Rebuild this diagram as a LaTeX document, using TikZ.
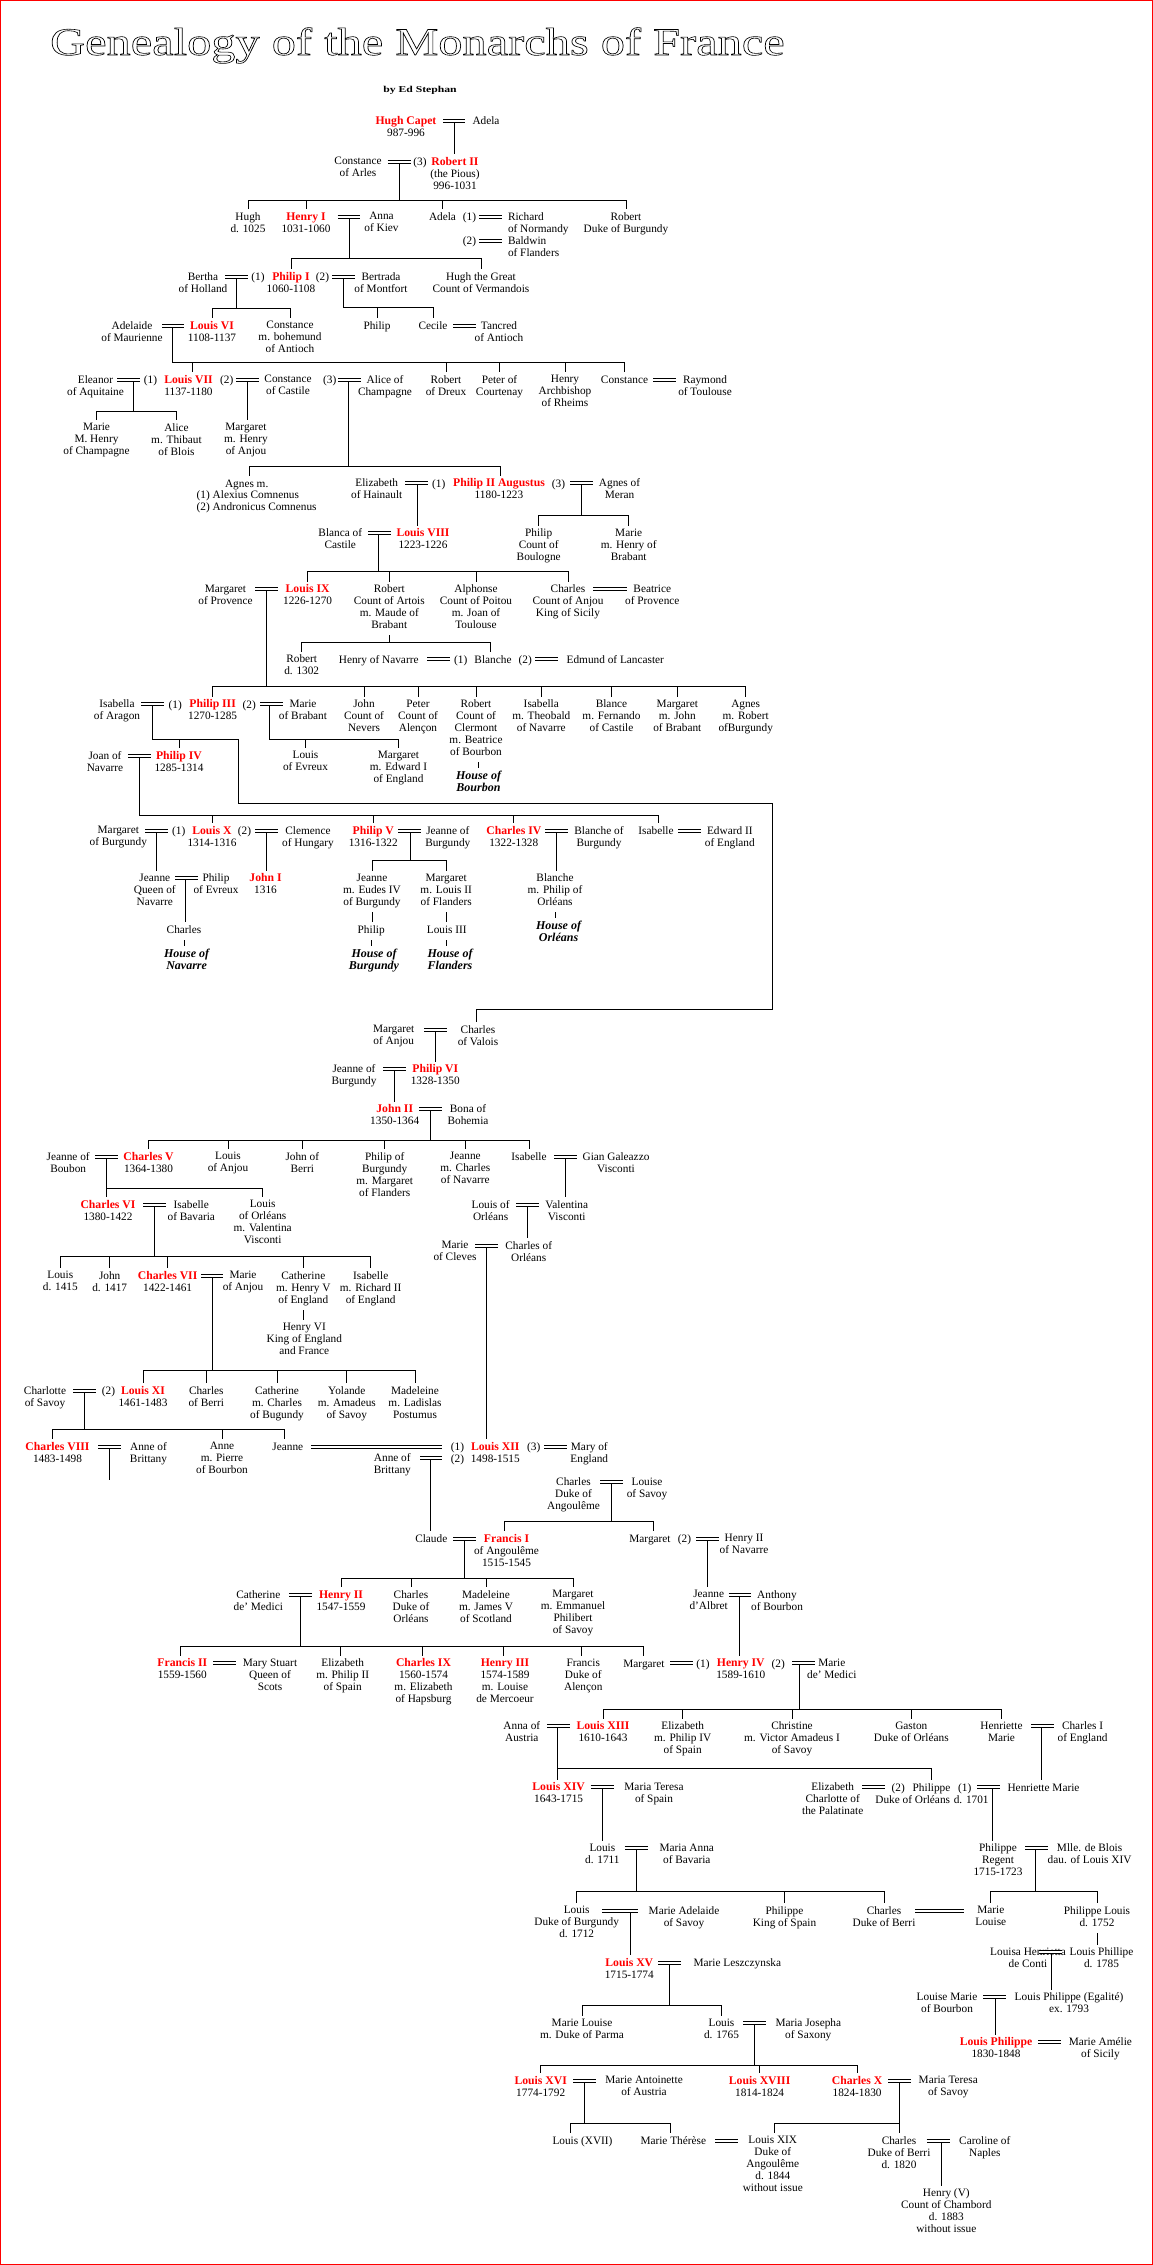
\documentclass[tikz,border=0pt]{standalone}
\usepackage{fontspec}
\setmainfont{Liberation Serif}
\usepackage{graphicx}
\newcommand\myNF{\fontsize{11.3}{12}\selectfont}
\newcommand\myK[1]{{\fontsize{11.7}{12}\selectfont\bfseries\color{red}#1}}
\newcommand\myH[1]{{\fontsize{12}{12}\selectfont\bfseries\itshape #1}}
\tikzset{
  tx/.style={anchor=north, inner sep=0pt, outer xsep=0pt, outer ysep=3.5pt, yshift=8.1pt, align=center, font=\myNF, execute at begin node=\strut},
  txl/.style={tx, anchor=north west, align=left},
  ln/.style={line width=1pt, line cap=rect},
  mar/.style={double, double distance=1.7pt, line width=1pt},
}
% marriage: name, x1, x2, y, descent x
\newcommand\myM[5]{\coordinate (#1) at (#5,#4+1.5); \draw[mar] (#2,#4) -- (#3,#4);}
% family bar: name, y, xleft, xright
\newcommand\myB[4]{\coordinate (#1L) at (#3,#2); \coordinate (#1R) at (#4,#2); \draw[ln] (#1L) -- (#1R);}
% tick from bar to child
\newcommand\myT[2]{\draw[ln] (#2.north) -- (#2.north |- #1L);}
\newcommand\myTX[3]{\path ([xshift=#3pt]#2.north) coordinate (tmp); \draw[ln] (tmp) -- (tmp |- #1L);}
% direct descent from marriage to child
\newcommand\myD[2]{\draw[ln] (#1) -- (#1 |- #2.north);}
% descent from marriage to bar
\newcommand\myU[2]{\draw[ln] (#1) -- (#1 |- #2L);}
\begin{document}
\begin{tikzpicture}[x=1pt,y=-1pt]
\useasboundingbox (0,0) rectangle (1153,2265);
\fill[white] (0,0) rectangle (1153,2265);

% ---------------- nodes ----------------
\node[anchor=base, inner sep=0pt] (by) at (420,92.5) {\scalebox{1.3}[1]{\fontsize{9}{9}\selectfont\bfseries by Ed Stephan}};

% R1
\node[tx] (hugh) at (406,121) {\myK{Hugh Capet}\\987-996};
\node[tx] (adela0) at (486,121) {Adela};
\node[tx] (constA) at (358,162) {Constance\\of Arles};
\node[tx] (n3a) at (420,162) {(3)};
\node[tx] (rob) at (455,162) {\myK{Robert II}\\(the Pious)\\996-1031};
\node[tx] (hughB) at (248,217) {Hugh\\d. 1025};
\node[tx] (henry1) at (306,217) {\myK{Henry I}\\1031-1060};
\node[tx] (anna) at (381.5,217) {Anna\\of Kiev};
\node[tx] (adela) at (442.5,217) {Adela};
\node[tx] (n1a) at (469.5,217) {(1)};
\node[txl] (richard) at (508,217) {Richard\\of Normandy};
\node[tx] (n2a) at (469.5,241) {(2)};
\node[txl] (baldwin) at (508,241) {Baldwin\\of Flanders};
\node[tx] (robB) at (626,217) {Robert\\Duke of Burgundy};
\node[tx] (bertha) at (203,277) {Bertha\\of Holland};
\node[tx] (n1b) at (258,277) {(1)};
\node[tx] (philip1) at (291,277) {\myK{Philip I}\\1060-1108};
\node[tx] (n2b) at (322.5,277) {(2)};
\node[tx] (bertrada) at (381,277) {Bertrada\\of Montfort};
\node[tx] (hughG) at (481,277) {Hugh the Great\\Count of Vermandois};
\node[tx] (adelaide) at (132,326) {Adelaide\\of Maurienne};
\node[tx] (louis6) at (212,326) {\myK{Louis VI}\\1108-1137};
\node[tx] (constB) at (290,326) {Constance\\m. bohemund\\of Antioch};
\node[tx] (philipC) at (377,326) {Philip};
\node[tx] (cecile) at (433,326) {Cecile};
\node[tx] (tancred) at (499,326) {Tancred\\of Antioch};

% R2
\node[tx] (eleanor) at (95.5,380) {Eleanor\\of Aquitaine};
\node[tx] (n1c) at (150.5,380) {(1)};
\node[tx] (louis7) at (188.5,380) {\myK{Louis VII}\\1137-1180};
\node[tx] (n2c) at (226.7,380) {(2)};
\node[tx] (constC) at (288,380) {Constance\\of Castile};
\node[tx] (n3c) at (329.7,380) {(3)};
\node[tx] (alice) at (385,380) {Alice of\\Champagne};
\node[tx] (robD) at (446,380) {Robert\\of Dreux};
\node[tx] (peter) at (499.5,380) {Peter of\\Courtenay};
\node[tx] (henryR) at (565,380) {Henry\\Archbishop\\of Rheims};
\node[tx] (constD) at (624.5,380) {Constance};
\node[tx] (raymond) at (705,380) {Raymond\\of Toulouse};
\node[tx] (marieC) at (96.5,428) {Marie\\M. Henry\\of Champagne};
\node[tx] (aliceB) at (176.5,428) {Alice\\m. Thibaut\\of Blois};
\node[tx] (margA) at (246,428) {Margaret\\m. Henry\\of Anjou};
\node[tx] (agnes) at (246.7,483.3) {Agnes m.};
\node[txl] (agnesB) at (196.7,495.3) {(1) Alexius Comnenus\\(2) Andronicus Comnenus};
\node[tx] (elizH) at (376.7,483.3) {Elizabeth\\of Hainault};
\node[tx] (n1d) at (438.7,483.3) {(1)};
\node[tx] (philip2) at (499,483.3) {\myK{Philip II Augustus}\\1180-1223};
\node[tx] (n3d) at (558.5,483.3) {(3)};
\node[tx] (agnesM) at (619.5,483.3) {Agnes of\\Meran};
\node[tx] (blanca) at (340.3,533.3) {Blanca of\\Castile};
\node[tx] (louis8) at (423,533.3) {\myK{Louis VIII}\\1223-1226};
\node[tx] (philipB) at (538.7,533.3) {Philip\\Count of\\Boulogne};
\node[tx] (marieB) at (628.7,533.3) {Marie\\m. Henry of\\Brabant};
\node[tx] (margP) at (225.5,589.3) {Margaret\\of Provence};
\node[tx] (louis9) at (307.6,589.3) {\myK{Louis IX}\\1226-1270};
\node[tx] (robA) at (389.3,589.3) {Robert\\Count of Artois\\m. Maude of\\Brabant};
\node[tx] (alphonse) at (476,589.3) {Alphonse\\Count of Poitou\\m. Joan of\\Toulouse};
\node[tx] (charlesA) at (568,589.3) {Charles\\Count of Anjou\\King of Sicily};
\node[tx] (beatrice) at (652.3,589.3) {Beatrice\\of Provence};
\node[tx] (rob1302) at (301.7,659.3) {Robert\\d. 1302};
\node[tx] (henryN) at (378.7,659.3) {Henry of Navarre};
\node[tx] (n1e) at (460.7,659.3) {(1)};
\node[tx] (blancheA) at (493,659.3) {Blanche};
\node[tx] (n2e) at (525.3,659.3) {(2)};
\node[tx] (edmund) at (615.3,659.3) {Edmund of Lancaster};
\node[tx] (isabella) at (117,704.3) {Isabella\\of Aragon};
\node[tx] (n1f) at (175.3,704.3) {(1)};
\node[tx] (philip3) at (212.6,704.3) {\myK{Philip III}\\1270-1285};
\node[tx] (n2f) at (249.3,704.3) {(2)};
\node[tx] (marieBr) at (303,704.3) {Marie\\of Brabant};
\node[tx] (johnN) at (364,704.3) {John\\Count of\\Nevers};
\node[tx] (peterA) at (418,704.3) {Peter\\Count of\\Alençon};
\node[tx] (robC) at (476,704.3) {Robert\\Count of\\Clermont\\m. Beatrice\\of Bourbon};
\node[tx] (isabT) at (541.3,704.3) {Isabella\\m. Theobald\\of Navarre};
\node[tx] (blance) at (611.5,704.3) {Blance\\m. Fernando\\of Castile};
\node[tx] (margJ) at (677.3,704.3) {Margaret\\m. John\\of Brabant};
\node[tx] (agnesR) at (745.7,704.3) {Agnes\\m. Robert\\ofBurgundy};
\node[tx] (hBourbon) at (478.5,776) {\myH{House of}\\\myH{Bourbon}};
\node[tx] (joan) at (105,756) {Joan of\\Navarre};
\node[tx] (philip4) at (179,756) {\myK{Philip IV}\\1285-1314};
\node[tx] (louisE) at (305.5,756) {Louis\\of Evreux};
\node[tx] (margE) at (398.5,756) {Margaret\\m. Edward I\\of England};

% R3
\node[tx] (margB) at (118.3,831) {Margaret\\of Burgundy};
\node[tx] (n1g) at (178.7,831) {(1)};
\node[tx] (louis10) at (212,831) {\myK{Louis X}\\1314-1316};
\node[tx] (n2g) at (244.5,831) {(2)};
\node[tx] (clemence) at (308,831) {Clemence\\of Hungary};
\node[tx] (philip5) at (373.3,831) {\myK{Philip V}\\1316-1322};
\node[tx] (jeanneB) at (447.8,831) {Jeanne of\\Burgundy};
\node[tx] (charles4) at (513.8,831) {\myK{Charles IV}\\1322-1328};
\node[tx] (blancheB) at (599,831) {Blanche of\\Burgundy};
\node[tx] (isab1) at (656,831) {Isabelle};
\node[tx] (edward) at (729.8,831) {Edward II\\of England};
\node[tx] (jeanneN) at (154.8,878.3) {Jeanne\\Queen of\\Navarre};
\node[tx] (philipE) at (216,878.3) {Philip\\of Evreux};
\node[tx] (john1) at (265.5,878.3) {\myK{John I}\\1316};
\node[tx] (jeanneE) at (372,878.3) {Jeanne\\m. Eudes IV\\of Burgundy};
\node[tx] (margF) at (446.2,878.3) {Margaret\\m. Louis II\\of Flanders};
\node[tx] (blancheP) at (555,878.3) {Blanche\\m. Philip of\\Orléans};
\node[tx] (charlesN) at (184,929.3) {Charles};
\node[tx] (philipBg) at (371.2,929.3) {Philip};
\node[tx] (louis3) at (446.8,929.3) {Louis III};
\node[tx] (hOrleans) at (558.5,926) {\myH{House of}\\\myH{Orléans}};
\node[tx] (hNavarre) at (186.6,953.3) {\myH{House of}\\\myH{Navarre}};
\node[tx] (hBurgundy) at (374,953.3) {\myH{House of}\\\myH{Burgundy}};
\node[tx] (hFlanders) at (450,953.3) {\myH{House of}\\\myH{Flanders}};
\node[tx] (margAn) at (393.7,1030) {Margaret\\of Anjou};
\node[tx] (charlesV) at (478,1030) {Charles\\of Valois};
\node[tx] (jeanneB2) at (354,1069.3) {Jeanne of\\Burgundy};
\node[tx] (philip6) at (435.3,1069.3) {\myK{Philip VI}\\1328-1350};
\node[tx] (john2) at (394.7,1109.3) {\myK{John II}\\1350-1364};
\node[tx] (bona) at (468,1109.3) {Bona of\\Bohemia};

% R4
\node[tx] (jeanneBo) at (68.2,1157) {Jeanne of\\Boubon};
\node[tx] (charles5) at (148.5,1157) {\myK{Charles V}\\1364-1380};
\node[tx] (louisA) at (228,1157) {Louis\\of Anjou};
\node[tx] (johnB) at (302.3,1157) {John of\\Berri};
\node[tx] (philipBu) at (384.7,1157) {Philip of\\Burgundy\\m. Margaret\\of Flanders};
\node[tx] (jeanneC) at (465.3,1157) {Jeanne\\m. Charles\\of Navarre};
\node[tx] (isab2) at (529,1157) {Isabelle};
\node[tx] (gian) at (616,1157) {Gian Galeazzo\\Visconti};
\node[tx] (charles6) at (108,1205) {\myK{Charles VI}\\1380-1422};
\node[tx] (isabB) at (191.3,1205) {Isabelle\\of Bavaria};
\node[tx] (louisOr) at (262.7,1205) {Louis\\of Orléans\\m. Valentina\\Visconti};
\node[tx] (louisO) at (490.6,1205) {Louis of\\Orléans};
\node[tx] (valentina) at (566.8,1205) {Valentina\\Visconti};
\node[tx] (marieCl) at (455,1246) {Marie\\of Cleves};
\node[tx] (charlesO) at (528.7,1246) {Charles of\\Orléans};
\node[tx] (louis1415) at (60.3,1276) {Louis\\d. 1415};
\node[tx] (john1417) at (109.7,1276) {John\\d. 1417};
\node[tx] (charles7) at (167.6,1276) {\myK{Charles VII}\\1422-1461};
\node[tx] (marieAn) at (243,1276) {Marie\\of Anjou};
\node[tx] (cathE) at (303.3,1276) {Catherine\\m. Henry V\\of England};
\node[tx] (isabR) at (370.7,1276) {Isabelle\\m. Richard II\\of England};
\node[tx] (henry6) at (304.3,1328) {Henry VI\\King of England\\and France};
\node[tx] (charlotte) at (45,1391) {Charlotte\\of Savoy};
\node[tx] (n2h) at (108.5,1391) {(2)};
\node[tx] (louis11) at (143,1391) {\myK{Louis XI}\\1461-1483};
\node[tx] (charlesB) at (206.3,1391) {Charles\\of Berri};
\node[tx] (cathC) at (277,1391) {Catherine\\m. Charles\\of Bugundy};
\node[tx] (yolande) at (346.8,1391) {Yolande\\m. Amadeus\\of Savoy};
\node[tx] (madeleine) at (415,1391) {Madeleine\\m. Ladislas\\Postumus};
\node[tx] (charles8) at (57.5,1447) {\myK{Charles VIII}\\1483-1498};
\node[tx] (anneBr) at (148.5,1447) {Anne of\\Brittany};
\node[tx] (anneP) at (222,1447) {Anne\\m. Pierre\\of Bourbon};
\node[tx] (jeanneL) at (287.8,1447) {Jeanne};
\node[tx] (n1i) at (457.5,1447) {(1)};
\node[tx] (louis12) at (495.3,1447) {\myK{Louis XII}\\1498-1515};
\node[tx] (n3i) at (533.7,1447) {(3)};
\node[tx] (mary) at (589.3,1447) {Mary of\\England};
\node[tx] (anneBr2) at (392.3,1458.3) {Anne of\\Brittany};
\node[tx] (n2i) at (457.5,1458.3) {(2)};
\node[tx] (charlesAng) at (573.5,1482.3) {Charles\\Duke of\\Angoulême};
\node[tx] (louiseS) at (647,1482.3) {Louise\\of Savoy};

% R5
\node[tx] (claude) at (431.3,1539) {Claude};
\node[tx] (francis1) at (506.5,1539) {\myK{Francis I}\\of Angoulême\\1515-1545};
\node[tx] (margN) at (650,1539) {Margaret};
\node[tx] (n2j) at (684.5,1539) {(2)};
\node[tx] (henry2N) at (744,1539) {Henry II\\of Navarre};
\node[tx] (jeanneAl) at (708.7,1595) {Jeanne\\d'Albret};
\node[tx] (anthony) at (777,1595) {Anthony\\of Bourbon};
\node[tx] (cathM) at (258.3,1595) {Catherine\\de' Medici};
\node[tx] (henry2) at (341,1595) {\myK{Henry II}\\1547-1559};
\node[tx] (charlesO2) at (411,1595) {Charles\\Duke of\\Orléans};
\node[tx] (madeleine2) at (486,1595) {Madeleine\\m. James V\\of Scotland};
\node[tx] (margS) at (573,1595) {Margaret\\m. Emmanuel\\Philibert\\of Savoy};
\node[tx] (francis2) at (182.3,1663.3) {\myK{Francis II}\\1559-1560};
\node[tx] (maryS) at (270,1663.3) {Mary Stuart\\Queen of\\Scots};
\node[tx] (elizS) at (342.7,1663.3) {Elizabeth\\m. Philip II\\of Spain};
\node[tx] (charles9) at (423.5,1663.3) {\myK{Charles IX}\\1560-1574\\m. Elizabeth\\of Hapsburg};
\node[tx] (henry3) at (505,1663.3) {\myK{Henry III}\\1574-1589\\m. Louise\\de Mercoeur};
\node[tx] (francisA) at (583.3,1663.3) {Francis\\Duke of\\Alençon};
\node[tx] (margV) at (644,1663.3) {Margaret};
\node[tx] (n1k) at (703,1663.3) {(1)};
\node[tx] (henry4) at (740.8,1663.3) {\myK{Henry IV}\\1589-1610};
\node[tx] (n2k) at (778.3,1663.3) {(2)};
\node[tx] (marieM) at (831.8,1663.3) {Marie\\de' Medici};
\node[tx] (anneA) at (521.8,1726.3) {Anna of\\Austria};
\node[tx] (louis13) at (603,1726.3) {\myK{Louis XIII}\\1610-1643};
\node[tx] (elizP) at (682.7,1726.3) {Elizabeth\\m. Philip IV\\of Spain};
\node[tx] (christine) at (792,1726.3) {Christine\\m. Victor Amadeus I\\of Savoy};
\node[tx] (gaston) at (911.3,1726.3) {Gaston\\Duke of Orléans};
\node[tx] (henriette) at (1001.5,1726.3) {Henriette\\Marie};
\node[tx] (charles1) at (1082.6,1726.3) {Charles I\\of England};
\node[tx] (louis14) at (558.6,1787.3) {\myK{Louis XIV}\\1643-1715};
\node[tx] (mariaT) at (654,1787.3) {Maria Teresa\\of Spain};
\node[tx] (elizC) at (832.7,1787.3) {Elizabeth\\Charlotte of\\the Palatinate};
\node[tx] (n2l) at (898.3,1787.3) {(2)};
\node[tx] (philippeO) at (931.5,1787.3) {Philippe};
\node[tx] (dukeO) at (912.7,1799.3) {Duke of Orléans};
\node[tx] (d1701) at (971.2,1799.3) {d. 1701};
\node[tx] (n1l) at (964.7,1787.3) {(1)};
\node[tx] (henriette2) at (1043.5,1787.3) {Henriette Marie};
\node[tx] (louis1711) at (602.4,1848.3) {Louis\\d. 1711};
\node[tx] (mariaA) at (686.8,1848.3) {Maria Anna\\of Bavaria};
\node[tx] (philippeR) at (998,1848.3) {Philippe\\Regent\\1715-1723};
\node[tx] (mlle) at (1089.6,1848.3) {Mlle. de Blois\\dau. of Louis XIV};

% R6
\node[tx] (louisDB) at (576.7,1911) {Louis\\Duke of Burgundy\\d. 1712};
\node[tx] (marieAd) at (684,1911) {Marie Adelaide\\of Savoy};
\node[tx] (philippeK) at (784.5,1911) {Philippe\\King of Spain};
\node[tx] (charlesDB) at (884,1911) {Charles\\Duke of Berri};
\node[tx] (marieL) at (990.8,1911) {Marie\\Louise};
\node[tx] (philippeL) at (1097,1911) {Philippe Louis\\d. 1752};
\node[tx] (louisaH) at (1028,1952.3) {Louisa Henrietta\\de Conti};
\node[tx] (louisPh) at (1101.5,1952.3) {Louis Phillipe\\d. 1785};
\node[tx] (louiseM) at (947,1997.3) {Louise Marie\\of Bourbon};
\node[tx] (egalite) at (1069,1997.3) {Louis Philippe (Egalité)\\ex. 1793};
\node[tx] (louisP) at (996,2042.3) {\myK{Louis Philippe}\\1830-1848};
\node[tx] (marieAm) at (1100.4,2042.3) {Marie Amélie\\of Sicily};
\node[tx] (louis15) at (629.3,1963) {\myK{Louis XV}\\1715-1774};
\node[tx] (marieLe) at (737.3,1963) {Marie Leszczynska};
\node[tx] (marieLP) at (582,2023.3) {Marie Louise\\m. Duke of Parma};
\node[tx] (louis1765) at (721.5,2023.3) {Louis\\d. 1765};
\node[tx] (mariaJ) at (808.3,2023.3) {Maria Josepha\\of Saxony};
\node[tx] (louis16) at (540.7,2081) {\myK{Louis XVI}\\1774-1792};
\node[tx] (marieAnt) at (644,2081) {Marie Antoinette\\of Austria};
\node[tx] (louis18) at (759.6,2081) {\myK{Louis XVIII}\\1814-1824};
\node[tx] (charles10) at (857.1,2081) {\myK{Charles X}\\1824-1830};
\node[tx] (mariaTS) at (948.3,2081) {Maria Teresa\\of Savoy};
\node[tx] (louis17) at (582.5,2141) {Louis (XVII)};
\node[tx] (marieT) at (673.3,2141) {Marie Thérèse};
\node[tx] (louis19) at (772.8,2141) {Louis XIX\\Duke of\\Angoulême\\d. 1844\\without issue};
\node[tx] (charlesB2) at (899,2141) {Charles\\Duke of Berri\\d. 1820};
\node[tx] (caroline) at (984.8,2141) {Caroline of\\Naples};
\node[tx] (henry5) at (946.3,2193.3) {Henry (V)\\Count of Chambord\\d. 1883\\without issue};

% ---------------- connectors ----------------
% R1
\myM{mHugh}{443}{465}{121}{454}
\myM{mRob}{387.5}{411}{162}{399}
\myM{mHen}{337.5}{360}{217}{349}
\myM{mAdA}{479}{501.5}{217}{490}
\myM{mAdB}{479}{501.5}{241}{490}
\myM{mBer}{225}{247.5}{277}{236}
\myM{mBtr}{332}{355}{277}{343.5}
\myM{mLsix}{162}{183.6}{326}{172.3}
\myM{mCec}{453}{476}{326}{464.5}
\myD{mHugh}{rob}
\myB{bRob}{200}{248}{626} \myU{mRob}{bRob}
\myT{bRob}{hughB} \myT{bRob}{henry1} \myT{bRob}{adela} \myT{bRob}{robB}
\myB{bHen}{258}{291}{481} \myU{mHen}{bHen}
\myT{bHen}{philip1} \myT{bHen}{hughG}
\myB{bBer}{308}{212}{290} \myU{mBer}{bBer}
\myT{bBer}{louis6} \myT{bBer}{constB}
\myB{bBtr}{307}{343.5}{433} \myU{mBtr}{bBtr}
\myT{bBtr}{philipC} \myT{bBtr}{cecile}
\myB{bLsix}{362}{172.3}{624.5} \myU{mLsix}{bLsix}
\myTX{bLsix}{louis7}{3.5} \myT{bLsix}{robD} \myT{bLsix}{peter} \myT{bLsix}{henryR} \myT{bLsix}{constD}

% R2
\myM{mEle}{117}{140}{380}{133.7}
\myM{mCas}{236}{259}{380}{247.3}
\myM{mAli}{338}{361}{380}{348.7}
\myM{mRay}{653}{675.7}{380}{664}
\myM{mEli}{405.3}{428}{483.3}{417.3}
\myM{mMer}{570}{592.7}{483.3}{581.3}
\myM{mBla}{368.3}{390.7}{533.3}{378.3}
\myM{mLnine}{255}{278}{589.3}{266.7}
\myM{mCha}{593.3}{627}{589.3}{610}
\myM{mHN}{427.3}{450}{659.3}{438}
\myM{mEd}{535}{557.7}{659.3}{546}
\myM{mIsa}{141}{164}{704.3}{152.3}
\myM{mMB}{260}{283}{704.3}{269.3}
\myM{mJoan}{128}{151}{756}{139.3}
\myB{bEle}{411.3}{96.5}{176.5} \myU{mEle}{bEle}
\myT{bEle}{marieC} \myT{bEle}{aliceB}
\myD{mCas}{margA}
\myB{bAli}{466.3}{249.3}{500.3} \myU{mAli}{bAli}
\myTX{bAli}{agnes}{2.6} \myTX{bAli}{philip2}{1.3}
\myD{mEli}{louis8}
\myB{bMer}{515.3}{538.7}{628.7} \myU{mMer}{bMer}
\myT{bMer}{philipB} \myT{bMer}{marieB}
\myB{bBla}{571.7}{307.6}{568} \myU{mBla}{bBla}
\myT{bBla}{louis9} \myT{bBla}{robA} \myT{bBla}{alphonse} \myT{bBla}{charlesA}
\myB{bRA}{642.3}{301.7}{490.7}
\draw[ln] (robA.south) -- (robA.south |- bRAL);
\myT{bRA}{rob1302} \myTX{bRA}{blancheA}{-2.3}
\myB{bLnine}{686}{212.6}{745.7} \myU{mLnine}{bLnine}
\myT{bLnine}{philip3} \myT{bLnine}{johnN} \myT{bLnine}{peterA} \myT{bLnine}{robC}
\myT{bLnine}{isabT} \myT{bLnine}{blance} \myT{bLnine}{margJ} \myT{bLnine}{agnesR}
\draw[ln] (robC.south -| hBourbon.north) -- (hBourbon.north);
\myB{bIsa}{739.3}{152.3}{238.3} \myU{mIsa}{bIsa}
\myT{bIsa}{philip4}
\coordinate (vA) at (772.7,803.3);
\coordinate (vB) at (476.7,1009.3);
\draw[ln] (bIsaR) |- (vA) |- (vB) -- (vB |- charlesV.north);
\myB{bMB}{739.3}{269.3}{398.5} \myU{mMB}{bMB}
\myT{bMB}{louisE} \myT{bMB}{margE}
\myB{bJoan}{815}{139.3}{658.3} \myU{mJoan}{bJoan}
\myT{bJoan}{louis10} \myT{bJoan}{philip5} \myT{bJoan}{charles4} \myTX{bJoan}{isab1}{2.3}

% R3
\myM{mLtenA}{145.3}{167.7}{831}{156.7}
\myM{mLtenB}{255}{278}{831}{266.7}
\myM{mPfive}{398.3}{421}{831}{410.3}
\myM{mCfour}{545}{568}{831}{556.7}
\myM{mEdtwo}{678.3}{701}{831}{690}
\myM{mJP}{175}{197.7}{878.3}{185.3}
\myM{mVal}{424}{446.7}{1030}{435.3}
\myM{mPsix}{383.3}{406}{1069.3}{394.7}
\myM{mJtwo}{419.3}{442}{1109.3}{430.7}
\myD{mLtenA}{jeanneN}
\myD{mLtenB}{john1}
\myB{bPfive}{860}{372}{446.2} \myU{mPfive}{bPfive}
\myT{bPfive}{jeanneE} \myT{bPfive}{margF}
\myD{mCfour}{blancheP}
\myD{mJP}{charlesN}
\draw[ln] (jeanneE.south) -- (jeanneE.south |- philipBg.north);
\draw[ln] (margF.south) -- (margF.south |- louis3.north);
\draw[ln] (blancheP.south) -- (blancheP.south |- hOrleans.north);
\draw[ln] (charlesN.south) -- (charlesN.south |- hNavarre.north);
\draw[ln] (philipBg.south) -- (philipBg.south |- hBurgundy.north);
\draw[ln] (louis3.south) -- (louis3.south |- hFlanders.north);
\myD{mVal}{philip6}
\myD{mPsix}{john2}
\myB{bJtwo}{1140}{148.5}{529} \myU{mJtwo}{bJtwo}
\myT{bJtwo}{charles5} \myT{bJtwo}{louisA} \myT{bJtwo}{johnB} \myT{bJtwo}{philipBu} \myT{bJtwo}{jeanneC} \myT{bJtwo}{isab2}

% R4
\myM{mCfive}{95.3}{117.7}{1157}{106.7}
\myM{mGian}{554.3}{576.7}{1157}{565.3}
\myM{mCsix}{143.3}{165.7}{1205}{154.3}
\myM{mLO}{516.3}{538.7}{1205}{527.3}
\myM{mMC}{475}{497.7}{1246}{486.3}
\myM{mCseven}{201}{223.3}{1276}{212.3}
\myM{mLeleven}{73.3}{96}{1391}{84.3}
\myM{mCeight}{98.3}{121}{1447}{109.3}
\myM{mLtwA}{311}{441.7}{1447}{376}
\myM{mLtwB}{420}{441.7}{1458.3}{430.3}
\myM{mMary}{544}{566.7}{1447}{555}
\myM{mAng}{600}{622.7}{1482.3}{611.7}
\myB{bCfive}{1188.3}{106.7}{262.7}
\myD{mCfive}{charles6}
\myT{bCfive}{louisOr}
\myD{mGian}{valentina}
\myD{mLO}{charlesO}
\myD{mMC}{louis12}
\myB{bCsix}{1256.3}{60.3}{370.7} \myU{mCsix}{bCsix}
\myT{bCsix}{louis1415} \myT{bCsix}{john1417} \myT{bCsix}{charles7} \myT{bCsix}{cathE} \myT{bCsix}{isabR}
\draw[ln] (cathE.south) -- (cathE.south |- henry6.north);
\myB{bCseven}{1370}{143}{415} \myU{mCseven}{bCseven}
\myT{bCseven}{louis11} \myT{bCseven}{charlesB} \myT{bCseven}{cathC} \myT{bCseven}{yolande} \myT{bCseven}{madeleine}
\myB{bLeleven}{1429.3}{52.3}{284.3} \myU{mLeleven}{bLeleven}
\myTX{bLeleven}{charles8}{-5.2} \myT{bLeleven}{anneP} \myTX{bLeleven}{jeanneL}{-3.5}
\coordinate (ceightEnd) at (109.3,1479);
\draw[ln] (mCeight) -- (ceightEnd);
\myD{mLtwB}{claude}
\myB{bAng}{1521}{504.3}{653.3} \myU{mAng}{bAng}
\myTX{bAng}{francis1}{-2.2} \myTX{bAng}{margN}{3.3}

% R5
\myM{mFone}{453}{475.7}{1539}{464.7}
\myM{mHtwoN}{696.3}{719}{1539}{707.3}
\myM{mJA}{728.7}{750.7}{1595}{739.3}
\myM{mHtwo}{289}{311.7}{1595}{300.3}
\myM{mFtwo}{213}{235.7}{1663.3}{224}
\myM{mHfourA}{670.3}{693}{1663.3}{681}
\myM{mHfourB}{792.3}{814.7}{1663.3}{799.3}
\myM{mLthirteen}{547.3}{569.7}{1726.3}{557.3}
\myM{mHM}{1031.3}{1053.7}{1726.3}{1041.3}
\myM{mLfourteen}{590.7}{613.7}{1787.3}{602.3}
\myM{mPOtwo}{862.3}{884.7}{1787.3}{873}
\myM{mPOone}{977}{999.7}{1787.3}{992.3}
\myM{mLdsev}{624.7}{648}{1848.3}{636.3}
\myM{mReg}{1025.3}{1048}{1848.3}{1035.3}
\myD{mHtwoN}{jeanneAl}
\myB{bFone}{1578.3}{341}{573} \myU{mFone}{bFone}
\myT{bFone}{henry2} \myT{bFone}{charlesO2} \myT{bFone}{madeleine2} \myT{bFone}{margS}
\myD{mJA}{henry4}
\myB{bHtwo}{1646.3}{180.7}{643.3} \myU{mHtwo}{bHtwo}
\myTX{bHtwo}{francis2}{-1.6} \myTX{bHtwo}{elizS}{-2.4} \myTX{bHtwo}{charles9}{-1.2} \myTX{bHtwo}{henry3}{-1.7} \myTX{bHtwo}{francisA}{-2} \myTX{bHtwo}{margV}{-0.7}
\myB{bHfour}{1709.3}{603}{1001.5} \myU{mHfourB}{bHfour}
\myT{bHfour}{louis13} \myT{bHfour}{elizP} \myT{bHfour}{christine} \myT{bHfour}{gaston} \myT{bHfour}{henriette}
\myD{mLthirteen}{louis14}
\myB{bLthirteen}{1768.3}{557.3}{931.5}
\myT{bLthirteen}{philippeO}
\myD{mHM}{henriette2}
\myD{mLfourteen}{louis1711}
\myD{mPOone}{philippeR}
\myB{bLdsev}{1891}{576.7}{884} \myU{mLdsev}{bLdsev}
\myT{bLdsev}{louisDB} \myT{bLdsev}{philippeK} \myT{bLdsev}{charlesDB}
\myB{bReg}{1891}{990.8}{1097} \myU{mReg}{bReg}
\myT{bReg}{marieL} \myT{bReg}{philippeL}

% R6
\myM{mLDB}{602.3}{637.7}{1911}{630.7}
\myM{mCDB}{915.3}{964}{1911}{940}
\myM{mLH}{1039}{1062}{1952.3}{1051.3}
\myM{mLM}{983}{1005.7}{1997.3}{995.3}
\myM{mLP}{1038}{1060.7}{2042.3}{1049}
\myM{mLfifteen}{658.3}{681}{1963}{669.3}
\myM{mLdsf}{743.3}{765.7}{2023.3}{754.3}
\myM{mLsixteen}{573.3}{596}{2081}{584.3}
\myM{mCten}{888.3}{910.7}{2081}{899.3}
\myM{mMT}{715}{737.7}{2141}{726}
\myM{mCB}{926.7}{950}{2141}{941.7}
\draw[ln] (philippeL.south) -- (philippeL.south |- louisPh.north);
\myD{mLH}{egalite}
\myD{mLM}{louisP}
\myD{mLDB}{louis15}
\myB{bLfifteen}{2005.3}{582}{721.5} \myU{mLfifteen}{bLfifteen}
\myT{bLfifteen}{marieLP} \myT{bLfifteen}{louis1765}
\myB{bLdsf}{2065}{540.7}{857.1} \myU{mLdsf}{bLdsf}
\myT{bLdsf}{louis16} \myT{bLdsf}{louis18} \myT{bLdsf}{charles10}
\myB{bLsixteen}{2123.3}{570.7}{670.3} \myU{mLsixteen}{bLsixteen}
\myTX{bLsixteen}{louis17}{-11.8} \myTX{bLsixteen}{marieT}{-3}
\myB{bCten}{2123.3}{774.3}{899.3}
\myD{mCten}{charlesB2}
\myTX{bCten}{louis19}{1.5}
\myD{mCB}{henry5}

% border
\draw[red, line width=1pt] (0.5,0.5) rectangle (1152.5,2264.5);

% title (last, outline rendering)
\node[anchor=base west, inner sep=0pt] (title) at (50,55) {\scalebox{1.24}[1]{\fontsize{39}{39}\selectfont\special{pdf:literal direct 1 Tr 0.6 w}Genealogy of the Monarchs of France\special{pdf:literal direct 0 Tr}}};
\end{tikzpicture}
\end{document}
